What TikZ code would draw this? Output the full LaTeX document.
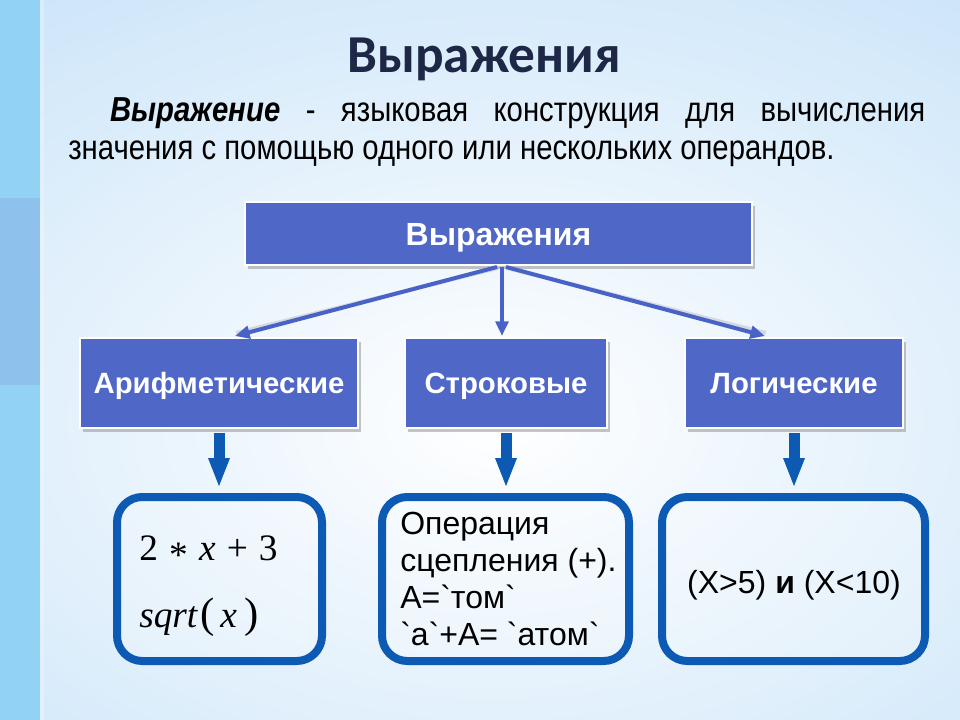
\documentclass[tikz,border=0pt]{standalone}
\usepackage{fontspec}
\setmainfont{Liberation Sans}
\newfontfamily\titlefont{Carlito}
\newfontfamily\narrowfont[FakeStretch=0.845]{Liberation Sans}
\newfontfamily\mathserif{Liberation Serif}
\newfontfamily\rawsans[Ligatures=TeXOff]{Liberation Sans}
\usetikzlibrary{arrows.meta,shadows,calc}
\definecolor{bgbase}{RGB}{196,225,248}
\definecolor{stripcol}{RGB}{146,210,245}
\definecolor{stripblock}{RGB}{142,193,236}
\definecolor{boxblue}{RGB}{79,103,199}
\definecolor{arrowblue}{RGB}{72,98,200}
\definecolor{darkblue}{RGB}{12,90,180}
\definecolor{titlecol}{RGB}{30,40,70}
\begin{document}
\begin{tikzpicture}[x=0.75pt,y=-0.75pt,
  catbox/.style={rectangle, fill=boxblue, draw=white, line width=1.5pt, text=white,
    font=\bfseries\fontsize{22}{26}\selectfont, minimum height=67.5pt, inner sep=0pt,
    text height=15.8pt, text depth=0pt,
    drop shadow={shadow xshift=2.5pt, shadow yshift=-3pt, fill=black!50, opacity=0.45}},
  exbox/.style={rectangle, rounded corners=19pt, draw=darkblue, line width=6pt,
    fill=white, fill opacity=0.2, minimum height=123pt, inner sep=0pt},
  linkarrow/.style={arrowblue, line width=3pt, -{Triangle[length=11pt,width=9.5pt]}},
  linkshadow/.style={black!40, opacity=0.3, line width=3pt},
  downarrow/.style={darkblue, line width=8.25pt, -{Triangle[length=22.5pt,width=14.5pt]}},
  extext/.style={anchor=base west, inner sep=0pt, text=black}
]
\useasboundingbox (0,0) rectangle (960,720);
% background
\fill[bgbase] (0,0) rectangle (960,720);
\begin{scope}
\clip (0,0) rectangle (960,720);
\shade[inner color=white, outer color=bgbase] (495,420) ellipse [x radius=950, y radius=620];
\end{scope}
\fill[stripcol] (0,0) rectangle (40,720);
\fill[stripblock] (0,198) rectangle (40,385);
\fill[white, opacity=0.25] (40,0) rectangle (44,720);

% title and definition
\node[anchor=base, inner sep=0pt, text=titlecol,
  font=\titlefont\bfseries\fontsize{40}{46}\selectfont] (title) at (484,73) {Выражения};
\node[anchor=north west, inner sep=0pt, text width=642.75pt, align=justify,
  font=\narrowfont\fontsize{26}{28.5}\selectfont] (def) at (68,97)
  {\hspace*{31.5pt}\textbf{\textit{Выражение}} - языковая конструкция для вычисления\linebreak
   значения с помощью одного или нескольких операндов.};

% category boxes
\node[catbox, minimum width=380.25pt, minimum height=47.25pt, text height=17.3pt,
  font=\bfseries\fontsize{24}{28}\selectfont] (root) at (498.5,233.5) {Выражения};
\node[catbox, minimum width=208.5pt] (arith) at (219,383) {Арифметические};
\node[catbox, minimum width=151.5pt] (str) at (506,383) {Строковые};
\node[catbox, minimum width=163.5pt] (logic) at (794,383) {Логические};

% example boxes
\node[exbox, minimum width=153.75pt] (ex1) at (219.5,579) {};
\node[exbox, minimum width=185.25pt] (ex2) at (505.5,579) {};
\node[exbox, minimum width=197.25pt] (ex3) at (793.5,579) {};

\node[extext, font=\mathserif\fontsize{28}{32}\selectfont] (ex1a) at (139,560)
  {2\hspace{0.3em}\raisebox{-0.2em}{*}\hspace{0.3em}\textit{x}\hspace{0.3em}+\hspace{0.3em}3};
\node[extext, font=\mathserif\fontsize{28}{32}\selectfont] (ex1b) at (139,627)
  {\textit{sqrt}\hspace{2pt}{\fontsize{32}{32}\selectfont(}\hspace{4pt}\textit{x}\hspace{6pt}{\fontsize{32}{32}\selectfont)}};
\node[extext, align=left, font=\rawsans\fontsize{24}{27.75}\selectfont] (ex2t) at (400,645)
  {Операция\\сцепления (+).\\А=`том`\\`а`+А= `атом`};
\node[anchor=base, inner sep=0pt, font=\fontsize{24}{28}\selectfont] (ex3t) at (794,593)
  {(X>5) \textbf{и} (X<10)};

% connectors from root
\draw[linkshadow] ($(root.south)+(-0.5,2)$) -- ($(arith.north)+(17,-4)$);
\draw[linkshadow] ($(root.south)+(8.5,2)$) -- ($(logic.north)+(-28,-4)$);
\draw[linkarrow] ($(root.south)+(-1.5,1)$) -- ($(arith.north)+(16,-1)$);
\draw[linkarrow] ($(root.south)+(3.5,1)$) -- ($(str.north)+(-4,-1)$);
\draw[linkarrow] ($(root.south)+(7.5,1)$) -- ($(logic.north)+(-29,-1)$);

% thick arrows
\draw[downarrow] ($(arith.south)+(0,4)$) -- ($(arith.south |- ex1.north)+(0,-5)$);
\draw[downarrow] ($(str.south)+(0,4)$) -- ($(str.south |- ex2.north)+(0,-5)$);
\draw[downarrow] ($(logic.south)+(0,4)$) -- ($(logic.south |- ex3.north)+(0,-5)$);
\end{tikzpicture}
\end{document}
